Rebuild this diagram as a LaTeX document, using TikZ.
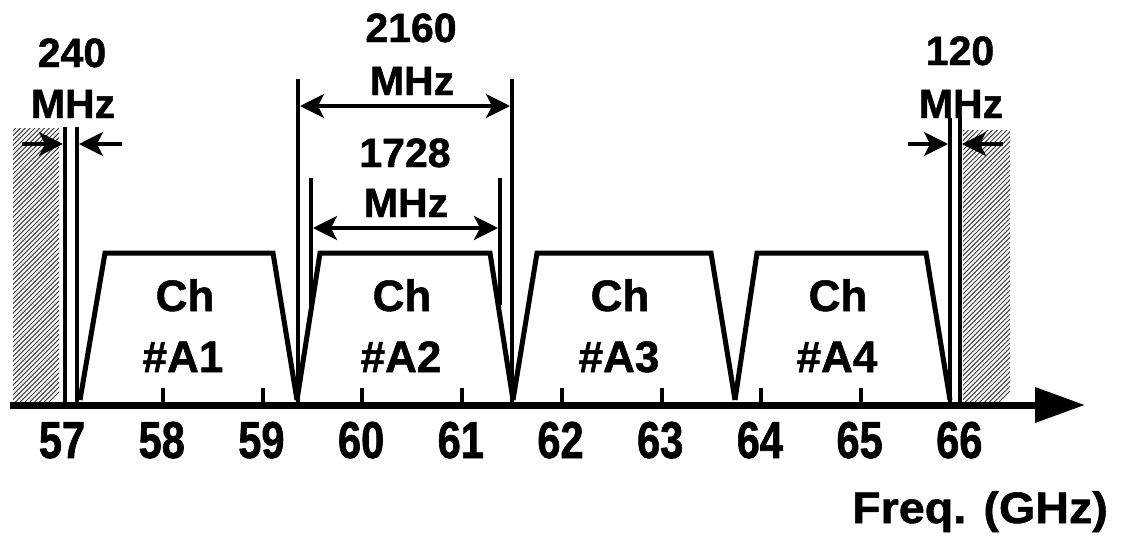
\documentclass[tikz,border=0pt]{standalone}
\usepackage{fontspec}
\setmainfont[FakeBold=1.2]{Liberation Sans}
\newfontfamily\narrowsans[FakeStretch=0.80,FakeBold=1.2]{Liberation Sans}
\newfontfamily\widesans[FakeStretch=1.06,FakeBold=1.2]{Liberation Sans}
\usetikzlibrary{arrows.meta}

\begin{document}
\begin{tikzpicture}[x=1pt,y=-1pt,
  lbl/.style={font=\fontsize{41}{41}\selectfont\bfseries, anchor=base, inner sep=0pt},
  chlbl/.style={font=\fontsize{44}{44}\selectfont\bfseries, anchor=base, inner sep=0pt},
  ticklbl/.style={font=\narrowsans\fontsize{52}{52}\selectfont\bfseries, anchor=base, inner sep=0pt},
  axislbl/.style={font=\widesans\fontsize{44}{44}\selectfont\bfseries, anchor=base, inner sep=0pt},
  band/.style={line width=5pt, line join=miter, miter limit=20},
  guide/.style={line width=4pt},
  tick/.style={line width=4pt},
  dimarrow/.style={line width=3.5pt, {Stealth[length=24pt,width=24pt,inset=6pt]}-{Stealth[length=24pt,width=24pt,inset=6pt]}},
  onearrow/.style={line width=3.5pt, -{Stealth[length=24pt,width=24pt,inset=6pt]}},
  hatchline/.style={line width=1.0pt, black!75}
]
\useasboundingbox (0,0) rectangle (1124,546);

% guard bands (diagonal hatching)
\begin{scope}
  \clip (13,128) rectangle (59,402);
  \foreach \s in {0,4.8,...,340} {
    \draw[hatchline] (13+\s-300,402) -- (13+\s,102);
  }
\end{scope}
\begin{scope}
  \clip (963,130) rectangle (1010,402);
  \foreach \s in {0,4.8,...,340} {
    \draw[hatchline] (963+\s-300,402) -- (963+\s,102);
  }
\end{scope}

% frequency axis
\coordinate (ax0) at (10,405);
\coordinate (ax1) at (1085,405);
\draw[line width=7pt, -{Triangle[length=50pt,width=34pt]}] (ax0) -- (ax1);

% ticks
\foreach \k in {0,...,7} {
  \draw[tick] (163+99.7*\k,388) -- (163+99.7*\k,402);
}

% tick labels
\foreach \f [count=\i from 0] in {57,...,66} {
  \node[ticklbl] (f\f) at (62+99.7*\i,458) {\f};
}

% channel masks
\draw[band] (80,400) -- (105,253) -- (273,253) -- (297,400);
\draw[band] (297,400) -- (320,253) -- (490,253) -- (513,400);
\draw[band] (513,400) -- (537,253) -- (711,253) -- (735,400);
\draw[band] (735,400) -- (757,253) -- (926,253) -- (950,400);

% channel names
\node[chlbl] (ch1a) at (185,311) {Ch};
\node[chlbl] (ch1b) at (183,372) {\#A1};
\node[chlbl] (ch2a) at (402,311) {Ch};
\node[chlbl] (ch2b) at (401,372) {\#A2};
\node[chlbl] (ch3a) at (620,311) {Ch};
\node[chlbl] (ch3b) at (619,372) {\#A3};
\node[chlbl] (ch4a) at (838,311) {Ch};
\node[chlbl] (ch4b) at (837,372) {\#A4};

% 240 MHz lower guard
\coordinate (g1t) at (65,127);  \coordinate (g1b) at (65,402);
\coordinate (g2t) at (77,127);  \coordinate (g2b) at (77,402);
\draw[guide] (g1t) -- (g1b);
\draw[guide] (g2t) -- (g2b);
\coordinate (a1s) at (22,144);  \coordinate (a1e) at (63,144);
\coordinate (a2s) at (122,144); \coordinate (a2e) at (79,144);
\draw[onearrow] (a1s) -- (a1e);
\draw[onearrow] (a2s) -- (a2e);
\node[lbl] (t240) at (72,67) {240};
\node[lbl] (m240) at (73,118) {MHz};

% 2160 MHz channel spacing
\coordinate (s1t) at (298,79);  \coordinate (s1b) at (298,402);
\coordinate (s2t) at (512,79);  \coordinate (s2b) at (512,402);
\draw[guide] (s1t) -- (s1b);
\draw[guide] (s2t) -- (s2b);
\coordinate (s1m) at (300,106); \coordinate (s2m) at (510,106);
\draw[dimarrow] (s1m) -- (s2m);
\node[lbl] (t2160) at (411,42) {2160};
\node[lbl] (m2160) at (412,95) {MHz};

% 1728 MHz occupied bandwidth
\coordinate (b1t) at (311,178); \coordinate (b1b) at (311,305);
\coordinate (b2t) at (500,178); \coordinate (b2b) at (500,305);
\draw[guide] (b1t) -- (b1b);
\draw[guide] (b2t) -- (b2b);
\coordinate (b1m) at (313,228); \coordinate (b2m) at (498,228);
\draw[dimarrow] (b1m) -- (b2m);
\node[lbl] (t1728) at (405,167) {1728};
\node[lbl] (m1728) at (406,217) {MHz};

% 120 MHz upper guard
\coordinate (u1t) at (950,118); \coordinate (u1b) at (950,402);
\coordinate (u2t) at (960,118); \coordinate (u2b) at (960,402);
\draw[guide] (u1t) -- (u1b);
\draw[guide] (u2t) -- (u2b);
\coordinate (c1s) at (908,144);  \coordinate (c1e) at (948,144);
\coordinate (c2s) at (1003,144); \coordinate (c2e) at (962,144);
\draw[onearrow] (c1s) -- (c1e);
\draw[onearrow] (c2s) -- (c2e);
\node[lbl] (t120) at (960,65) {120};
\node[lbl] (m120) at (961,118) {MHz};

% axis caption
\node[axislbl] (freq) at (980,523) {Freq. (GHz)};
\end{tikzpicture}
\end{document}
